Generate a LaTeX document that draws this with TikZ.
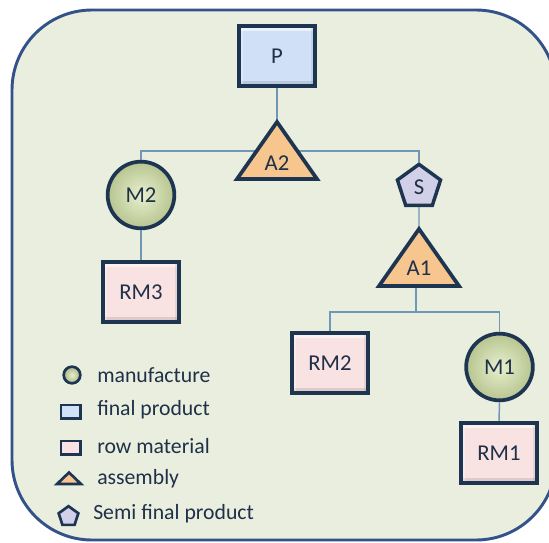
\documentclass[tikz,border=0pt]{standalone}
\usepackage{fontspec}
\setmainfont{Carlito}
\usetikzlibrary{shapes.geometric}
\definecolor{bgfill}{HTML}{E9EEDF}
\definecolor{framecol}{HTML}{34528A}
\definecolor{navy}{HTML}{1E3552}
\definecolor{conncol}{HTML}{7096B8}
\definecolor{txt}{HTML}{1F3048}
\definecolor{pfill}{HTML}{CFE0F7}
\definecolor{rmfill}{HTML}{F9E2E2}
\definecolor{mfill}{HTML}{D4E3A6}
\definecolor{afill}{HTML}{F7C68F}
\definecolor{sfill}{HTML}{D2CFE8}
\tikzset{
  frame/.style={draw=framecol, line width=2.2pt, fill=bgfill, rounded corners=60pt},
  conn/.style={draw=conncol, line width=1.1pt},
  bevel/.style={path picture={
    \fill[white, opacity=0.55] (path picture bounding box.north west) rectangle ([yshift=-3.5pt]path picture bounding box.north east);
    \fill[black, opacity=0.10] ([yshift=3.5pt]path picture bounding box.south west) rectangle (path picture bounding box.south east);
    \fill[black, opacity=0.07] ([xshift=-3pt]path picture bounding box.north east) rectangle (path picture bounding box.south east);
    \fill[white, opacity=0.3] (path picture bounding box.north west) rectangle ([xshift=3pt]path picture bounding box.south west);}},
  boxbase/.style={rectangle, draw=navy, line width=2.8pt, inner sep=0pt, text=txt,
    font=\fontsize{17}{20}\selectfont, minimum width=57pt, minimum height=45pt, bevel},
  fpbox/.style={boxbase, fill=pfill},
  rmbox/.style={boxbase, fill=rmfill},
  mcirc/.style={circle, draw=navy, line width=2.8pt, inner sep=0pt, text=txt,
    font=\fontsize{17}{20}\selectfont, minimum size=50pt,
    inner color=mfill!55!white, outer color=mfill!85!black!90!mfill},
  spent/.style={regular polygon, regular polygon sides=5, draw=navy, line width=2.6pt,
    inner sep=0pt, text=txt, fill=sfill, font=\fontsize{17}{20}\selectfont, minimum size=34pt},
  tri/.style={draw=navy, line width=2.8pt, fill=afill, line join=miter},
  trilbl/.style={text=txt, font=\fontsize{17}{20}\selectfont, inner sep=0pt},
  legtxt/.style={anchor=west, text=txt, font=\fontsize{16.3}{19}\selectfont, inner sep=0pt},
  legcirc/.style={circle, draw=navy, line width=2pt, inner sep=0pt, minimum size=12.5pt,
    inner color=mfill!55!white, outer color=mfill!80!black},
  legbox/.style={rectangle, draw=navy, line width=2pt, inner sep=0pt,
    minimum width=14.5pt, minimum height=10pt},
  legpent/.style={regular polygon, regular polygon sides=5, draw=navy, line width=2pt,
    inner sep=0pt, fill=sfill, minimum size=15.5pt},
}
\begin{document}
\begin{tikzpicture}[x=0.75pt,y=-0.75pt]
\useasboundingbox (0,0) rectangle (549,542);
\fill[white] (0,0) rectangle (549,542);
\draw[frame] (12,10) rectangle (556,540);

% nodes
\node[fpbox] (P) at (277,56) {P};
\node[mcirc] (M2) at (141,195) {M2};
\node[rmbox] (RM3) at (141,292) {RM3};
\node[spent] (S) at (419,187) {S};
\node[rmbox] (RM2) at (330,363) {RM2};
\node[mcirc] (M1) at (499.5,367) {M1};
\node[rmbox] (RM1) at (499,453) {RM1};

% triangle anchor points
\coordinate (A2t) at (277,122);
\coordinate (A2j) at (277,151);
\coordinate (A1t) at (419,229);
\coordinate (A1b) at (416,286);
\coordinate (A1j) at (416,312);

% connectors (behind triangles)
\draw[conn] (P.south) -- (A2t);
\draw[conn] (M2.north) |- (A2j) -| (S.north);
\draw[conn] (M2.south) -- (RM3.north);
\draw[conn] (S.south) -- (A1t);
\draw[conn] (A1b) -- (A1j);
\draw[conn] (RM2.north) |- (A1j) -| (M1.north);
\draw[conn] (M1.south) -- (RM1.north);

% assembly triangles
\draw[tri] (A2t) -- (317,179) -- (237,179) -- cycle;
\node[trilbl] (A2) at (277,163) {A2};
\draw[tri] (A1t) -- (459,286) -- (379,286) -- cycle;
\node[trilbl] (A1) at (419,268) {A1};

% legend
\node[legcirc] (Lm) at (72,375) {};
\node[legtxt] (Lmt) at (97,375) {manufacture};
\node[legbox, fill=pfill] (Lf) at (70.5,411.5) {};
\node[legtxt] (Lft) at (97,410) {final product};
\node[legbox, fill=rmfill] (Lr) at (70.5,447.5) {};
\node[legtxt] (Lrt) at (97,446) {row material};
\draw[navy, line width=2pt, fill=afill, line join=miter] (69,472.5) -- (81,484) -- (57,484) -- cycle;
\node[legtxt] (Lat) at (97,479) {assembly};
\node[legpent] (Ls) at (68.5,516.5) {};
\node[legtxt] (Lst) at (93,514) {Semi final product};
\end{tikzpicture}
\end{document}
